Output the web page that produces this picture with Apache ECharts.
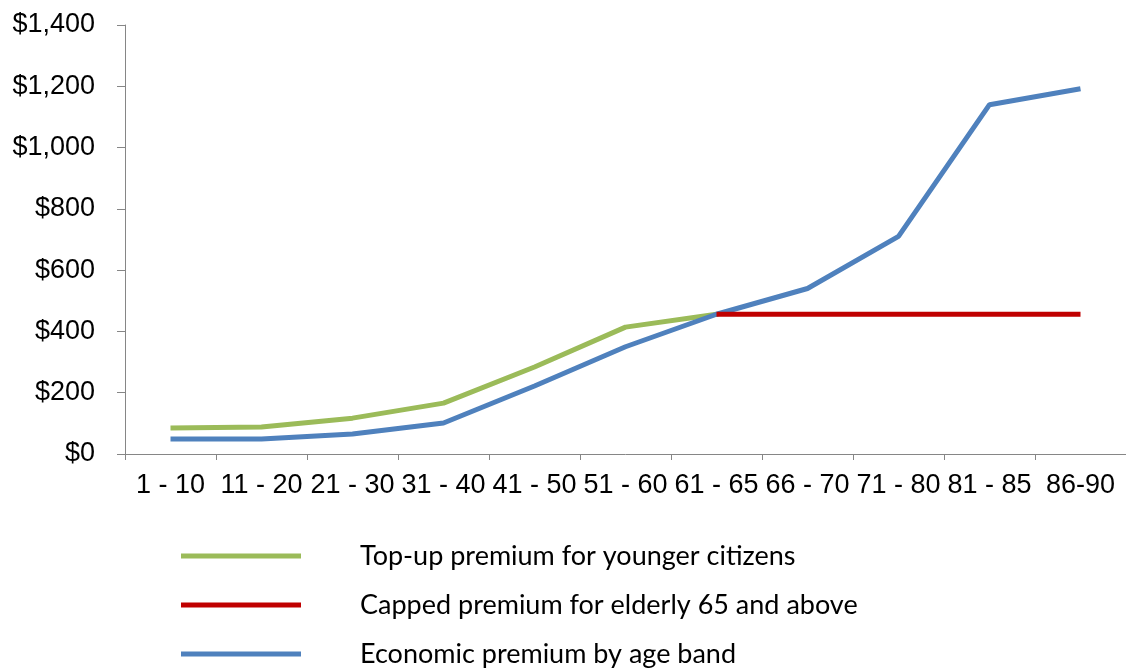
<!DOCTYPE html>
<html>
<head>
<meta charset="utf-8">
<script src="https://cdn.jsdelivr.net/npm/echarts@6/dist/echarts.min.js"></script>
<style>
html,body{margin:0;padding:0;background:#fff;}
#chart{width:1126px;height:672px;}
</style>
</head>
<body>
<div id="chart"></div>
<script>
var categories = ['1 - 10','11 - 20','21 - 30','31 - 40','41 - 50','51 - 60','61 - 65','66 - 70','71 - 80','81 - 85','86-90'];
var topUp = [85, 88, 117, 166, 284, 414, 456, '-', '-', '-', '-'];
var capped = ['-', '-', '-', '-', '-', '-', 456, 456, 456, 456, 456];
var economic = [49, 49, 65, 101, 222, 350, 456, 540, 710, 1140, 1192];
var seriesNames = ['Top-up premium for younger citizens', 'Capped premium for elderly 65 and above', 'Economic premium by age band'];

var chart = echarts.init(document.getElementById('chart'));
chart.setOption({
  animation: false,
  backgroundColor: '#fff',
  grid: { left: 125, top: 25, width: 1005, bottom: 218, containLabel: false },
  legend: {
    orient: 'vertical',
    left: 181,
    top: 540,
    height: 131,
    padding: 0,
    itemWidth: 120,
    itemHeight: 5,
    itemGap: 17,
    icon: 'rect',
    textStyle: { fontFamily: 'Lato', fontSize: 27, color: '#000', lineHeight: 32, padding: [0, 0, 0, 54] },
    data: seriesNames
  },
  xAxis: {
    type: 'category',
    data: categories,
    boundaryGap: true,
    axisLine: { lineStyle: { color: '#868686', width: 1 } },
    axisTick: { show: true, length: 6, lineStyle: { color: '#868686' } },
    axisLabel: { interval: 0, color: '#000', fontFamily: 'Liberation Sans', fontSize: 27, margin: 18 }
  },
  yAxis: {
    type: 'value',
    min: 0, max: 1400, interval: 200,
    splitLine: { show: false },
    axisLine: { show: true, lineStyle: { color: '#868686', width: 1 } },
    axisTick: { show: true, length: 8, lineStyle: { color: '#868686' } },
    axisLabel: {
      color: '#000', fontFamily: 'Liberation Sans', fontSize: 27, margin: 30,
      formatter: function (v) { return '$' + v.toLocaleString('en-US'); }
    }
  },
  series: [
    { name: seriesNames[0], type: 'line', data: topUp, symbol: 'none', color: '#9BBB59',
      lineStyle: { width: 5, color: '#9BBB59' }, z: 2 },
    { name: seriesNames[1], type: 'line', data: capped, symbol: 'none', color: '#C00000',
      lineStyle: { width: 5, color: '#C00000' }, z: 4 },
    { name: seriesNames[2], type: 'line', data: economic, symbol: 'none', color: '#4F81BD',
      lineStyle: { width: 5, color: '#4F81BD' }, z: 3 }
  ]
});
</script>
</body>
</html>
